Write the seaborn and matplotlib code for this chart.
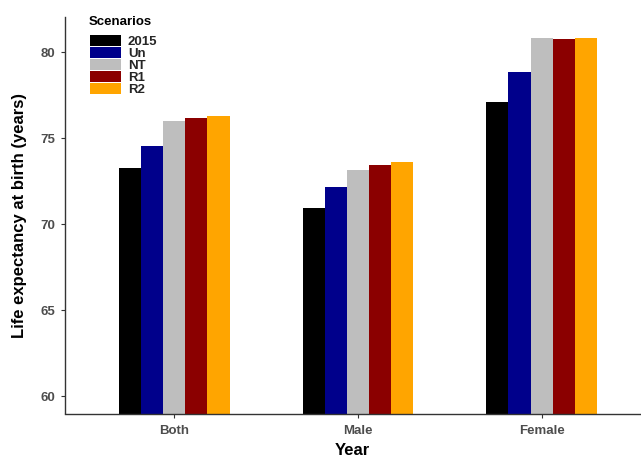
import matplotlib
matplotlib.use("Agg")
import matplotlib.pyplot as plt
import seaborn as sns
import pandas as pd
from matplotlib.patches import Patch

groups = ["Both", "Male", "Female"]
scenarios = ["2015", "Un", "NT", "R1", "R2"]
both = [73.28, 74.56, 76.01, 76.18, 76.30]
male = [70.96, 72.18, 73.17, 73.46, 73.63]
female = [77.11, 78.86, 80.83, 80.77, 80.83]
colors = ["#000000", "#00008B", "#BEBEBE", "#8B0000", "#FFA500"]
yticks = [60, 65, 70, 75, 80]

sns.set_style("white")
plt.rcParams['font.family'] = ['Liberation Sans', 'DejaVu Sans']

rows = []
for g, vals in zip(groups, [both, male, female]):
    for s, v in zip(scenarios, vals):
        rows.append({"Year": g, "Scenario": s, "Value": v})
df = pd.DataFrame(rows)

W, H = 641, 458
fig = plt.figure(figsize=(W / 100, H / 100), dpi=100)
ax = fig.add_axes([64.5 / W, (H - 413.5) / H, 1 - 64.5 / W, (413.5 - 17) / H])
sns.barplot(data=df, x="Year", y="Value", hue="Scenario", order=groups,
            hue_order=scenarios, palette=colors, width=0.6, saturation=1,
            linewidth=0, errorbar=None, legend=False, ax=ax)

ax.set_ylim(59.0, 82.05)
ax.set_xlim(-0.599, 2.542)
ax.set_yticks(yticks)
ax.set_xlabel("Year", fontsize=12, fontweight="bold", color="black", labelpad=4)
ax.set_ylabel("Life expectancy at birth (years)", fontsize=12, fontweight="bold",
              color="black", labelpad=9)
for side in ["top", "right"]:
    ax.spines[side].set_visible(False)
for side in ["left", "bottom"]:
    ax.spines[side].set_color("#333333")
    ax.spines[side].set_linewidth(1.0)
ax.tick_params(axis="both", which="both", length=3, width=0.8, color="#333333",
               labelsize=9.5, labelcolor="#4D4D4D", pad=4, left=True, bottom=True)
ax.tick_params(axis="x", pad=5.5)
for lab in ax.get_xticklabels() + ax.get_yticklabels():
    lab.set_fontweight("bold")

fig.text(88.8 / W, 1 - 25 / H, "Scenarios", ha="left", va="baseline",
         fontsize=9.5, fontweight="bold", color="black")
handles = [Patch(facecolor=c, edgecolor="none", label=s) for s, c in zip(scenarios, colors)]
leg = ax.legend(handles=handles, loc="upper left",
                bbox_to_anchor=(90 / W, 1 - 35 / H), bbox_transform=fig.transFigure,
                frameon=False, prop=dict(weight="bold", size=9.5),
                handlelength=2.35, handleheight=0.886, labelspacing=-0.07,
                handletextpad=0.53, borderpad=0, borderaxespad=0)

fig.savefig("out.png", dpi=100, facecolor="white")
